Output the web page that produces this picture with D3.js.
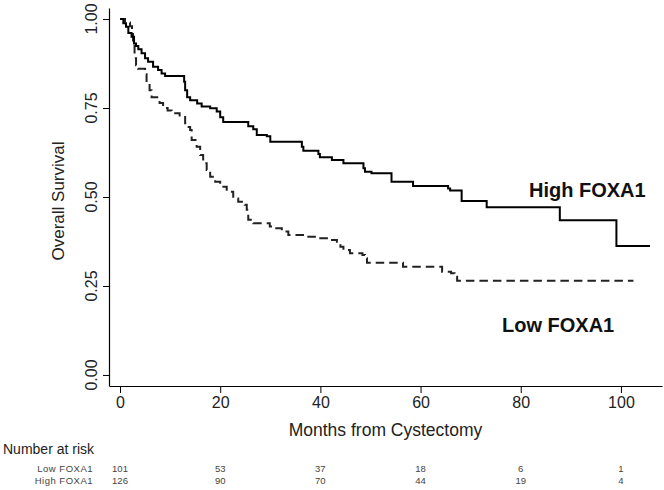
<!DOCTYPE html>
<html>
<head>
<meta charset="utf-8">
<script src="https://cdn.jsdelivr.net/npm/d3@7/dist/d3.min.js"></script>
<style>
  html, body { margin: 0; padding: 0; background: #fff; }
  svg { display: block; font-family: "Liberation Sans", Arial, Helvetica, sans-serif; }
</style>
</head>
<body>
<svg id="chart" width="664" height="490"></svg>
<script>
// ---- data ----
const highTime = [0, 0.2, 0.66, 1.2, 1.66, 2.3, 2.8, 3.2, 3.65, 4.3, 5.0, 5.6, 6.6, 7.6, 8.3, 9.0, 12.8, 13.0, 13.4, 14.0, 15.4, 16.3, 18.0, 19.3, 20.0, 20.6, 25.6, 26.6, 27.3, 29.3, 30.0, 36.3, 36.6, 39.6, 39.9, 42.3, 44.6, 48.6, 48.9, 50.2, 54.2, 58.5, 65.5, 65.9, 68.2, 73.2, 87.8, 99.1, 105.8];
const highSurv = [1, 1, 0.988, 0.978, 0.961, 0.950, 0.931, 0.924, 0.915, 0.904, 0.890, 0.880, 0.866, 0.857, 0.847, 0.840, 0.824, 0.80, 0.78, 0.772, 0.763, 0.754, 0.749, 0.740, 0.724, 0.711, 0.699, 0.690, 0.674, 0.671, 0.655, 0.641, 0.630, 0.621, 0.612, 0.604, 0.595, 0.581, 0.571, 0.567, 0.543, 0.531, 0.524, 0.518, 0.489, 0.471, 0.435, 0.362, 0.362];

const lowTime = [0, 1.0, 2.0, 2.4, 2.6, 2.9, 3.2, 3.6, 5.0, 5.3, 5.9, 6.3, 7.9, 8.6, 9.5, 10.3, 11.9, 13.0, 13.7, 14.0, 14.3, 15.3, 16.0, 16.6, 17.3, 18.0, 19.0, 20.0, 21.3, 22.6, 23.6, 24.9, 25.3, 25.6, 26.6, 29.9, 30.9, 32.3, 33.6, 37.6, 38.9, 41.3, 43.3, 44.0, 44.6, 45.9, 48.4, 48.9, 49.3, 56.5, 64.3, 66.1, 66.8, 67.3, 102.5];
const lowSurv = [1, 0.99, 0.98, 0.97, 0.93, 0.89, 0.87, 0.86, 0.845, 0.82, 0.80, 0.78, 0.764, 0.75, 0.743, 0.735, 0.725, 0.707, 0.697, 0.688, 0.66, 0.641, 0.618, 0.595, 0.576, 0.557, 0.543, 0.529, 0.515, 0.496, 0.487, 0.478, 0.464, 0.436, 0.426, 0.417, 0.412, 0.403, 0.393, 0.388, 0.384, 0.379, 0.374, 0.360, 0.351, 0.342, 0.337, 0.328, 0.315, 0.304, 0.290, 0.286, 0.276, 0.265, 0.265];

const xTicks = [0, 20, 40, 60, 80, 100];
const yTicks = [0, 0.25, 0.5, 0.75, 1];
const yTickLabels = ["0.00", "0.25", "0.50", "0.75", "1.00"];
const riskGroups = ["Low FOXA1", "High FOXA1"];
const riskLow = [101, 53, 37, 18, 6, 1];
const riskHigh = [126, 90, 70, 44, 19, 4];

// ---- scales ----
const svg = d3.select("#chart");
const x = d3.scaleLinear().domain([-2.2, 108.2]).range([109, 662]);
const y = d3.scaleLinear().domain([-0.031, 1.031]).range([386, 8]);

const txtColor = "#222";

// x axis
const xAxis = svg.append("g").attr("transform", `translate(0,${y(-0.031)})`)
  .call(d3.axisBottom(x).tickValues(xTicks).tickSize(7).tickSizeOuter(0).tickPadding(4));
xAxis.select(".domain").attr("stroke", "#000").attr("stroke-width", 1.2);
xAxis.selectAll(".tick line").attr("stroke", "#000").attr("stroke-width", 1);
xAxis.selectAll(".tick text").attr("font-size", 16).attr("fill", txtColor)
  .attr("font-family", "Liberation Sans, Arial, sans-serif");

// y axis
const yAxis = svg.append("g").attr("transform", `translate(${x(-2.2)},0)`)
  .call(d3.axisLeft(y).tickValues(yTicks).tickSize(6).tickSizeOuter(0).tickFormat(() => ""));
yAxis.select(".domain").attr("stroke", "#000").attr("stroke-width", 1.2);
yAxis.selectAll(".tick line").attr("stroke", "#000").attr("stroke-width", 1);

svg.append("g").selectAll("text").data(yTicks).join("text")
  .attr("transform", (d) => `translate(97,${y(d)}) rotate(-90)`)
  .attr("text-anchor", "middle")
  .attr("font-size", 16)
  .attr("fill", txtColor)
  .text((d, i) => yTickLabels[i]);

// axis titles
svg.append("text")
  .attr("x", (x(0) + x(100)) / 2 + 15)
  .attr("y", 436)
  .attr("text-anchor", "middle")
  .attr("font-size", 17.5)
  .attr("fill", txtColor)
  .text("Months from Cystectomy");

svg.append("text")
  .attr("transform", `translate(63.5,${(y(0) + y(1)) / 2 + 4}) rotate(-90)`)
  .attr("text-anchor", "middle")
  .attr("font-size", 17)
  .attr("fill", txtColor)
  .text("Overall Survival");

// curves
const line = d3.line().curve(d3.curveStepAfter)
  .x((d) => x(d[0])).y((d) => y(d[1]));

const lowData = lowTime.map((t, i) => [t, lowSurv[i]]);
const highData = highTime.map((t, i) => [t, highSurv[i]]);

svg.append("path").datum(lowData)
  .attr("d", line)
  .attr("fill", "none")
  .attr("stroke", "#222")
  .attr("stroke-width", 2)
  .attr("stroke-dasharray", "8.5,5");

svg.append("path").datum(highData)
  .attr("d", line)
  .attr("fill", "none")
  .attr("stroke", "#000")
  .attr("stroke-width", 2);

// curve labels
svg.append("text").attr("x", 529).attr("y", 197)
  .attr("font-size", 20).attr("font-weight", "bold").attr("fill", "#111")
  .text("High FOXA1");
svg.append("text").attr("x", 502).attr("y", 332)
  .attr("font-size", 20).attr("font-weight", "bold").attr("fill", "#111")
  .text("Low FOXA1");

// number at risk table
svg.append("text").attr("x", 3).attr("y", 453.5)
  .attr("font-size", 14).attr("fill", txtColor)
  .text("Number at risk");

const rows = [riskLow, riskHigh];
const rowY = [471.5, 484];
rows.forEach((vals, r) => {
  svg.append("text").attr("x", 93).attr("y", rowY[r])
    .attr("text-anchor", "end")
    .attr("font-size", 9.5).attr("letter-spacing", 0.5).attr("fill", "#444")
    .text(riskGroups[r]);
  svg.append("g").selectAll("text").data(vals).join("text")
    .attr("x", (d, i) => x(xTicks[i]))
    .attr("y", rowY[r])
    .attr("text-anchor", "middle")
    .attr("font-size", 9.5).attr("fill", "#444")
    .text((d) => d);
});
</script>
</body>
</html>
